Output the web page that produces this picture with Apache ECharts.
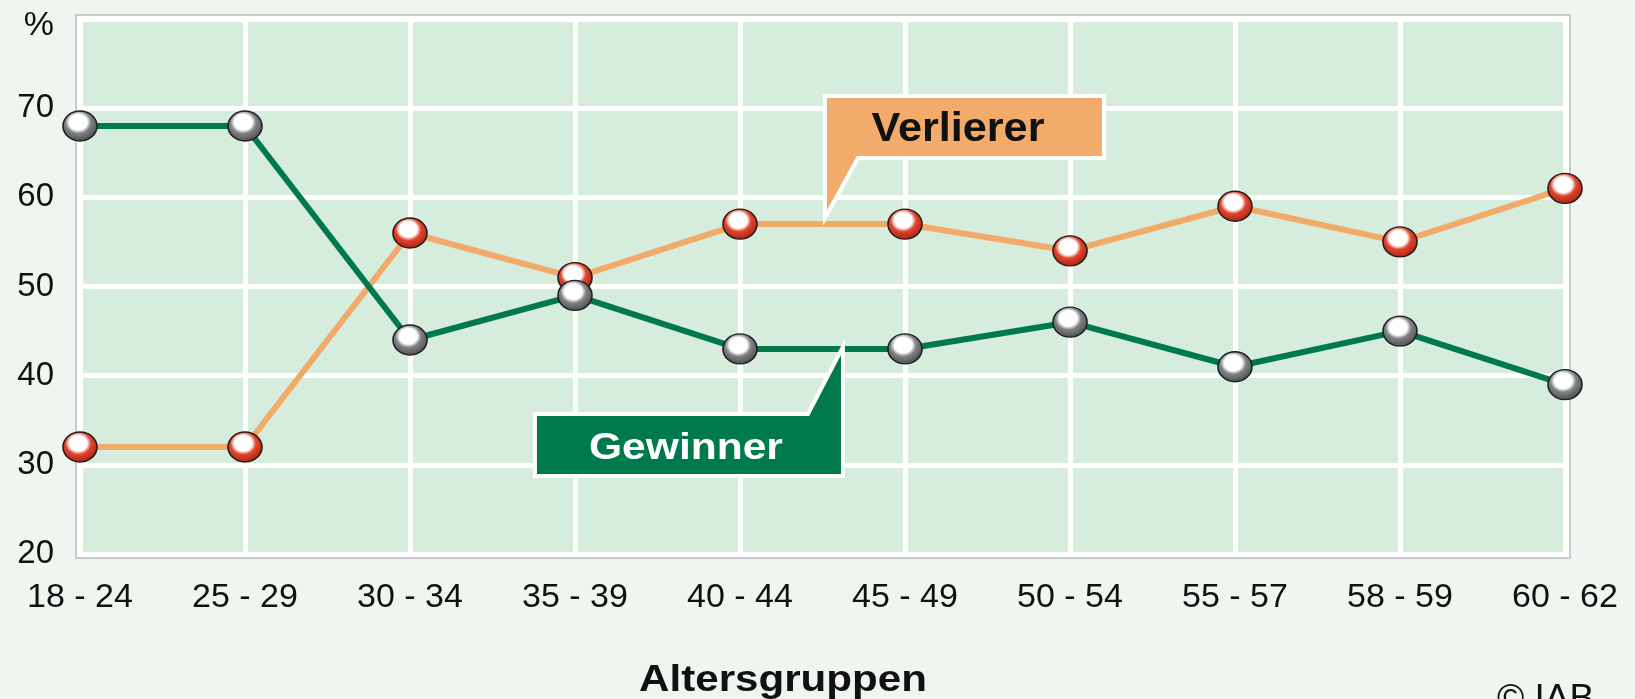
<!DOCTYPE html>
<html>
<head>
<meta charset="utf-8">
<script src="https://cdn.jsdelivr.net/npm/echarts@6/dist/echarts.min.js"></script>
<style>
  html, body { margin: 0; padding: 0; background: #eff6ef; }
  #lineChart { width: 1635px; height: 699px; }
</style>
</head>
<body>
<div id="lineChart"></div>
<script>
// Altersgruppen auf der x-Achse
const categories = ['18 - 24', '25 - 29', '30 - 34', '35 - 39', '40 - 44', '45 - 49', '50 - 54', '55 - 57', '58 - 59', '60 - 62'];
// Anteile in %
const gewinner = [68, 68, 44, 49, 43, 43, 46, 41, 45, 39];
const verlierer = [32, 32, 56, 51, 57, 57, 54, 59, 55, 61];
const yTicks = [20, 30, 40, 50, 60, 70, 80];

const FONT = '"Liberation Sans", Arial, sans-serif';

function ball(base, dark) {
  // kugelige Marker mit weißem Glanzpunkt
  return {
    type: 'radial', x: 0.45, y: 0.38, r: 0.62,
    colorStops: [
      { offset: 0, color: '#ffffff' },
      { offset: 0.4, color: '#ffffff' },
      { offset: 0.58, color: base },
      { offset: 1, color: dark }
    ]
  };
}

const myChart = echarts.init(document.getElementById('lineChart'));
const option = {
  backgroundColor: '#eff6ef',
  animation: false,
  grid: {
    left: 80,
    right: 70,
    top: 19,
    bottom: 145,
    show: true,
    backgroundColor: '#d6ecdc',
    borderWidth: 0
  },
  xAxis: {
    type: 'category',
    data: categories,
    boundaryGap: false,
    axisLine: { show: false },
    axisTick: { show: false },
    axisLabel: {
      margin: 27,
      color: '#111',
      fontSize: 34,
      fontFamily: FONT
    },
    splitLine: { show: true, lineStyle: { color: '#ffffff', width: 5 } }
  },
  yAxis: {
    type: 'value',
    min: yTicks[0],
    max: yTicks[yTicks.length - 1],
    interval: 10,
    axisLine: { show: false },
    axisTick: { show: false },
    axisLabel: {
      margin: 26,
      color: '#111',
      fontSize: 33,
      fontFamily: FONT,
      formatter: function (value) {
        return value === 80 ? '{p|%}' : value;
      },
      rich: {
        p: { fontSize: 34, fontFamily: FONT, color: '#111', padding: [14, 0, 0, 0] }
      }
    },
    splitLine: { show: true, lineStyle: { color: '#ffffff', width: 5 } }
  },
  series: [
    {
      name: 'Verlierer',
      type: 'line',
      data: verlierer,
      symbol: 'circle',
      symbolSize: [34, 30],
      lineStyle: { color: '#f2aa6a', width: 6 },
      itemStyle: { color: ball('#e0452e', '#a82416'), borderColor: '#2a1a18', borderWidth: 1.5 },
      z: 3
    },
    {
      name: 'Gewinner',
      type: 'line',
      data: gewinner,
      symbol: 'circle',
      symbolSize: [34, 30],
      lineStyle: { color: '#007a4d', width: 6 },
      itemStyle: { color: ball('#808285', '#4a4c4f'), borderColor: '#1f2022', borderWidth: 1.5 },
      z: 4
    }
  ]
};
myChart.setOption(option);

// Rahmen und Beschriftungen, an den Datenpunkten ausgerichtet
function at(idx, val) {
  const i0 = Math.floor(idx);
  const a = myChart.convertToPixel({ gridIndex: 0 }, [i0, val]);
  const b = myChart.convertToPixel({ gridIndex: 0 }, [i0 + 1, val]);
  return [a[0] + (b[0] - a[0]) * (idx - i0), a[1]];
}
const topLeft = myChart.convertToPixel({ gridIndex: 0 }, [0, 80]);
const botRight = myChart.convertToPixel({ gridIndex: 0 }, [categories.length - 1, 20]);

const vt = at(4.515, verlierer[4]); vt[1] -= 6;
const gt = at(4.624, gewinner[4]); gt[1] -= 2;

function shift(p, pts) {
  return pts.map(function (q) { return [p[0] + q[0], p[1] + q[1]]; });
}

myChart.setOption({
  graphic: [
    {
      type: 'rect', z: -10, silent: true,
      shape: { x: topLeft[0] - 4, y: topLeft[1] - 4, width: botRight[0] - topLeft[0] + 9, height: botRight[1] - topLeft[1] + 8 },
      style: { fill: '#ffffff', stroke: '#b8bdc2', lineWidth: 1.5 }
    },
    {
      type: 'polygon', z: 20,
      shape: { points: shift(vt, [[0, -122], [279, -122], [279, -60], [33, -60], [0, 0]]) },
      style: { fill: '#f2ab6b', stroke: '#ffffff', lineWidth: 4, lineJoin: 'miter' }
    },
    {
      type: 'text', z: 21, x: vt[0] + 133, y: vt[1] - 88, scaleX: 1.08,
      style: { text: 'Verlierer', fill: '#111', font: 'bold 40px ' + FONT, textAlign: 'center', textVerticalAlign: 'middle' }
    },
    {
      type: 'polygon', z: 20,
      shape: { points: shift(gt, [[-308, 67], [-35, 67], [0, 0], [0, 129], [-308, 129]]) },
      style: { fill: '#007a4d', stroke: '#ffffff', lineWidth: 4, lineJoin: 'miter' }
    },
    {
      type: 'text', z: 21, x: gt[0] - 157, y: gt[1] + 102, scaleX: 1.15,
      style: { text: 'Gewinner', fill: '#ffffff', font: 'bold 37px ' + FONT, textAlign: 'center', textVerticalAlign: 'middle' }
    },
    {
      type: 'text', x: 783, y: 681, scaleX: 1.17,
      style: { text: 'Altersgruppen', fill: '#111', font: 'bold 36px ' + FONT, textAlign: 'center', textVerticalAlign: 'middle' }
    },
    {
      type: 'text', x: 1497, y: 681,
      style: { text: '© IAB', fill: '#111', font: '37px ' + FONT, textAlign: 'left', textVerticalAlign: 'top' }
    }
  ]
});
</script>
</body>
</html>
